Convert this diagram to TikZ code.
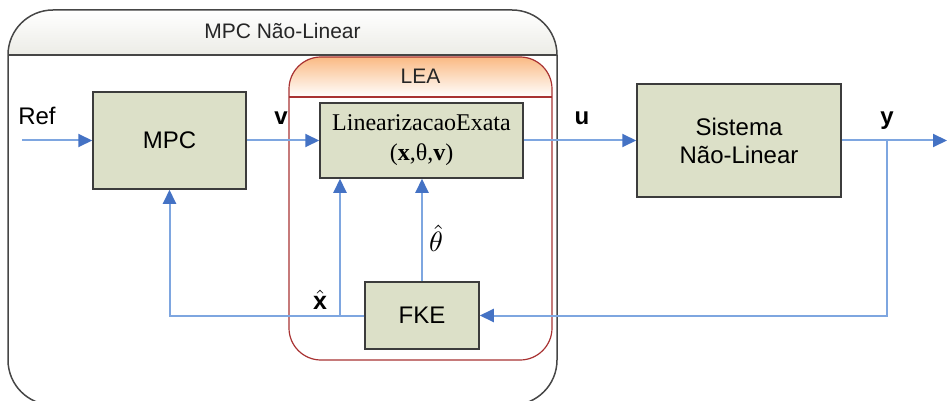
\documentclass[tikz,border=0pt]{standalone}
\usepackage{fontspec}
\setmainfont{Liberation Sans}
\newfontfamily\tnr{Liberation Serif}
\usetikzlibrary{arrows.meta}
\definecolor{boxfill}{RGB}{220,224,200}
\definecolor{boxline}{RGB}{60,60,60}
\definecolor{wire}{RGB}{126,166,224}
\definecolor{tipblue}{RGB}{68,114,196}
\definecolor{leared}{RGB}{168,50,50}
\definecolor{leatop}{RGB}{250,186,132}
\definecolor{outerline}{RGB}{70,70,70}
\definecolor{outerband}{RGB}{236,236,230}
\begin{document}
\begin{tikzpicture}[x=1pt,y=-1pt,
  blk/.style={draw=boxline, line width=1.5pt, fill=boxfill, inner sep=0pt, align=center, font=\fontsize{24}{28}\selectfont},
  wireline/.style={draw=wire, line width=2pt},
  arr/.style={wireline, -{Triangle[length=14pt,width=13pt,color=tipblue]}},
  lbl/.style={font=\fontsize{24}{28}\selectfont\bfseries, anchor=base},
  ttl/.style={font=\fontsize{21}{25}\selectfont, text=black!85}]
\useasboundingbox (0,0) rectangle (948,401);
% outer MPC container
\begin{scope}
  \clip[rounded corners=45pt] (8,10) rectangle (557,405);
  \shade[top color=white, bottom color=outerband] (8,10) rectangle (557,55);
\end{scope}
\draw[outerline, line width=1.5pt, rounded corners=45pt] (8,10) rectangle (557,405);
\draw[outerline, line width=1.5pt] (8,55) -- (557,55);
\node[ttl] (mpctitle) at (282.5,31) {MPC Não-Linear};
% LEA container
\begin{scope}
  \clip[rounded corners=32pt] (289,57) rectangle (552,360);
  \shade[top color=leatop, bottom color=white] (289,57) rectangle (552,97);
\end{scope}
\draw[leared, line width=1.2pt, rounded corners=32pt] (289,57) rectangle (552,360);
\draw[leared, line width=1.2pt] (289,97) -- (552,97);
\node[ttl] (leatitle) at (420.5,76) {LEA};
% blocks
\node[blk, minimum width=153pt, minimum height=97pt] (mpc) at (169.5,140.5) {MPC};
\node[blk, minimum width=203pt, minimum height=75pt, font=\tnr\fontsize{24}{30}\selectfont] (le) at (421.5,140.5) {LinearizacaoExata\\(\textbf{x},θ,\textbf{v})};
\node[blk, minimum width=114pt, minimum height=67pt] (fke) at (422,315.5) {FKE};
\node[blk, minimum width=204pt, minimum height=113pt] (sys) at (739,140.5) {Sistema\\Não-Linear};
% coordinates
\coordinate (refin) at (22,140.5);
\coordinate (yout) at (947,140.5);
\coordinate (yb) at (887,140.5);
\coordinate (xb) at (340,315.5);
% connectors
\draw[arr] (refin) -- (mpc.west);
\draw[arr] (mpc.east) -- (le.west);
\draw[arr] (le.east) -- (sys.west);
\draw[arr] (sys.east) -- (yout);
\draw[arr] (yb) |- (fke.east);
\draw[arr] (fke.west) -| (mpc.south);
\draw[arr] (xb) -- (xb |- le.south);
\draw[arr] (fke.north) -- (fke.north |- le.south);
% labels
\node[font=\fontsize{24}{28}\selectfont, anchor=base] (ref) at (37,125) {Ref};
\node[lbl] (vl) at (281,125) {v};
\node[lbl] (ul) at (582,125) {u};
\node[lbl] (yl) at (887,125) {y};
\node[scale=2.5, inner sep=0pt] (xh) at (320,300) {$\hat{\mathbf{x}}$};
\node[scale=2.8, inner sep=0pt] (th) at (436,238) {$\hat{\theta}$};
\end{tikzpicture}
\end{document}
